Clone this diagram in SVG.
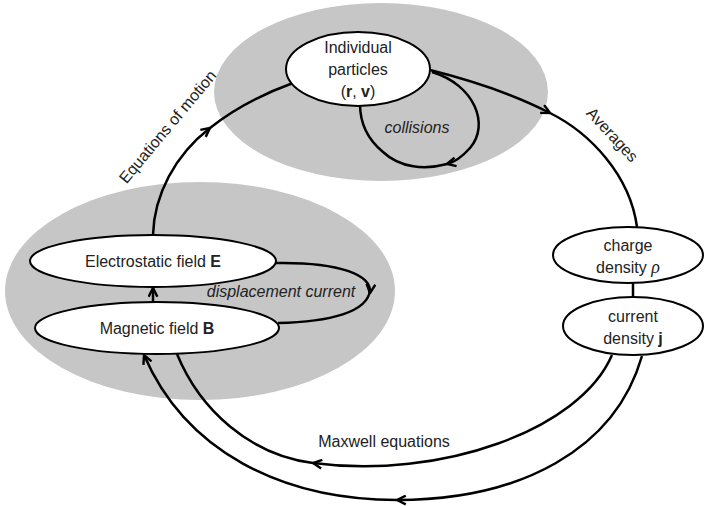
<svg xmlns="http://www.w3.org/2000/svg" width="704" height="506" viewBox="0 0 704 506">
<defs>
<marker id="arr" viewBox="0 0 10 10" refX="9" refY="5" markerWidth="11" markerHeight="11" markerUnits="userSpaceOnUse" orient="auto">
<path d="M1,1 L9,5 L1,9" fill="none" stroke="#000" stroke-width="2.2" stroke-linejoin="miter"/>
</marker>
<style>
.bg{fill:#c6c6c6;stroke:none}
.node{fill:#fff;stroke:#000;stroke-width:2}
.c{fill:none;stroke:#000;stroke-width:2.5}
.a{marker-end:url(#arr)}
text{font-family:"Liberation Sans",Arial,sans-serif;font-size:16px;fill:#222;text-anchor:middle}
.it{font-style:italic}
.b{font-weight:bold}
</style>
</defs>
<rect width="704" height="506" fill="#fff"/>
<g id="regions">
<ellipse class="bg" cx="381" cy="92" rx="167" ry="89"/>
<ellipse class="bg" cx="200" cy="291" rx="195" ry="109"/>
</g>
<g id="connectors">
<path class="c a" d="M153 235 C154 195 175 155 210 128"/>
<path class="c" d="M210 128 C235 108 260 95 293 83"/>
<path class="c a" d="M430 70 C470 80 515 95 550 113"/>
<path class="c" d="M550 113 C590 133 630 175 637 227"/>
<path class="c" d="M633 283 L633 298"/>
<path class="c a" d="M432 72 C475 85 490 125 470 148 C462 157 455 162 447 164"/>
<path class="c" d="M447 164 C425 170 400 168 383 152 C366 138 360 120 360 104"/>
<path class="c a" d="M276 263 C340 262 372 275 370 293"/>
<path class="c" d="M370 290 C368 312 330 322 278 323"/>
<path class="c a" d="M153 302 L153 288"/>
<path class="c a" d="M612 355 C580 430 440 480 313 463"/>
<path class="c" d="M313 463 C250 455 200 410 177 354"/>
<path class="c a" d="M642 356 C615 450 520 500 397 500"/>
<path class="c a" d="M397 500 C280 500 185 450 144 355"/>
</g>
<g id="particles">
<ellipse class="node" cx="358" cy="69" rx="72" ry="37"/>
<text x="358" y="53">Individual</text>
<text x="358" y="75">particles</text>
<text x="358" y="97">(<tspan class="b">r</tspan>, <tspan class="b">v</tspan>)</text>
</g>
<g id="efield">
<ellipse class="node" cx="153" cy="261" rx="123" ry="26"/>
<text x="153" y="267">Electrostatic field <tspan class="b">E</tspan></text>
</g>
<g id="bfield">
<ellipse class="node" cx="157" cy="328" rx="122" ry="26"/>
<text x="157" y="334">Magnetic field <tspan class="b">B</tspan></text>
</g>
<g id="charge">
<ellipse class="node" cx="628" cy="255" rx="75" ry="28"/>
<text x="628" y="251">charge</text>
<text x="628" y="273">density <tspan class="it" font-family="Liberation Serif,serif" font-size="18">ρ</tspan></text>
</g>
<g id="current">
<ellipse class="node" cx="633" cy="326" rx="70" ry="29"/>
<text x="633" y="322">current</text>
<text x="633" y="344">density <tspan class="b">j</tspan></text>
</g>
<g id="labels">
<text class="it" x="417" y="133">collisions</text>
<text class="it" x="281" y="297">displacement current</text>
<text x="384" y="447">Maxwell equations</text>
<text transform="translate(168 127) rotate(-50)" x="0" y="5" font-size="15">Equations of motion</text>
<text transform="translate(612 135) rotate(47)" x="0" y="5" font-size="15">Averages</text>
</g>
</svg>
